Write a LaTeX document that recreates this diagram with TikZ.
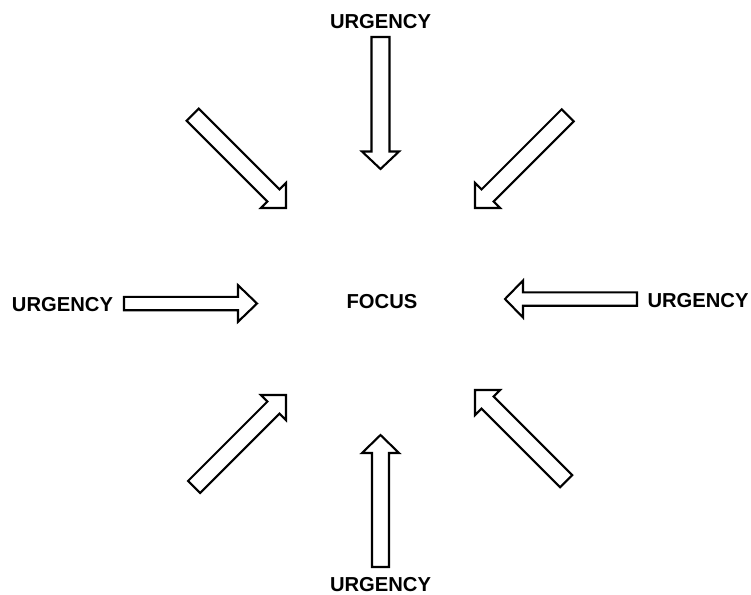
\documentclass[tikz,border=0pt]{standalone}
\usepackage{fontspec}
\setmainfont{Liberation Sans}
\tikzset{
  arrowline/.style={draw=black, line width=2.1pt, line join=miter, fill=white},
  label/.style={font=\fontsize{20.2}{24}\selectfont\bfseries, inner sep=0pt, anchor=base},
}
% Block arrow: #1 tip, #2 direction angle, #3 total length,
% #4 half shaft width, #5 half head width, #6 head length
\newcommand\blockarrow[6]{%
  \draw[arrowline, shift={#1}, rotate=#2]
    (0,0) -- (-#6,#5) -- (-#6,#4) -- (-#3,#4) -- (-#3,-#4)
    -- (-#6,-#4) -- (-#6,-#5) -- cycle;
}
\begin{document}
\begin{tikzpicture}[x=1pt,y=-1pt]
  \useasboundingbox (0,0) rectangle (751,594);

  % labels
  \node[label] (focus) at (382,308) {FOCUS};
  \node[label] (utop) at (380.5,28.3) {URGENCY};
  \node[label] (uleft) at (62.5,311.5) {URGENCY};
  \node[label] (uright) at (698,307) {URGENCY};
  \node[label] (ubottom) at (380.5,591) {URGENCY};

  % straight arrows
  \blockarrow{(380.5,169)}{-90}{132}{9}{18.5}{17.5}
  \blockarrow{(380.5,435)}{90}{132}{8.5}{18.5}{18}
  \blockarrow{(257,303.5)}{0}{133}{6.7}{18.3}{19}
  \blockarrow{(505,299)}{180}{132}{6.7}{18.5}{18}

  % diagonal arrows
  \blockarrow{(286,208)}{-45}{132}{8.5}{17.7}{17.7}
  \blockarrow{(475,208)}{-135}{131}{8.5}{17.7}{17.7}
  \blockarrow{(286,395)}{45}{130}{8.5}{17.7}{17.7}
  \blockarrow{(475,390)}{135}{129}{8.5}{17.7}{17.7}
\end{tikzpicture}
\end{document}
